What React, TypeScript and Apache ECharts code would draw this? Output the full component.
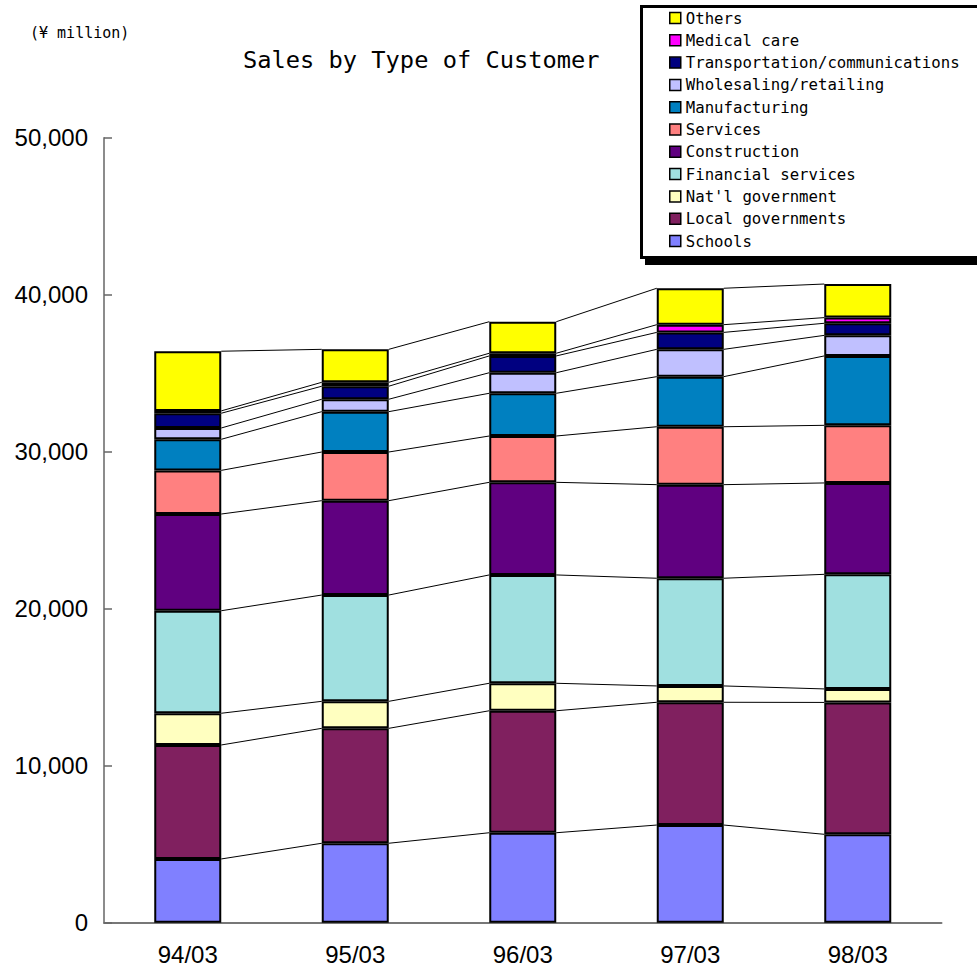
import React, { useEffect, useRef } from "react";
import * as echarts from "echarts";

const categories = ["94/03", "95/03", "96/03", "97/03", "98/03"];

const seriesNames = [
  "Schools",
  "Local governments",
  "Nat'l government",
  "Financial services",
  "Construction",
  "Services",
  "Manufacturing",
  "Wholesaling/retailing",
  "Transportation/communications",
  "Medical care",
  "Others",
];

const schools = [4060, 5060, 5730, 6220, 5630];
const localGovernments = [7260, 7320, 7770, 7820, 8400];
const natlGovernment = [2020, 1720, 1750, 1040, 860];
const financialServices = [6530, 6770, 6900, 6860, 7300];
const construction = [6160, 6010, 5900, 5960, 5820];
const services = [2780, 3100, 2950, 3690, 3670];
const manufacturing = [1980, 2570, 2720, 3190, 4420];
const wholesaling = [720, 790, 1310, 1740, 1310];
const transportation = [940, 830, 1070, 1080, 770];
const medicalCare = [150, 250, 170, 490, 360];
const others = [3800, 2100, 2010, 2320, 2140];

const seriesValues = [
  schools,
  localGovernments,
  natlGovernment,
  financialServices,
  construction,
  services,
  manufacturing,
  wholesaling,
  transportation,
  medicalCare,
  others,
];

const colors = [
  "#8080FF",
  "#80205F",
  "#FFFFC0",
  "#A0E0E0",
  "#600080",
  "#FF8080",
  "#0080C0",
  "#C0C0FF",
  "#000080",
  "#FF00FF",
  "#FFFF00",
];

const yTicks = [0, 10000, 20000, 30000, 40000, 50000];

export default function App() {
  const ref = useRef<HTMLDivElement>(null);

  useEffect(() => {
    if (!ref.current) return;
    const chart = echarts.init(ref.current, null, { renderer: "svg" });

    // cumulative tops for the connector lines
    const tops: number[][] = [];
    seriesValues.forEach((vals, k) => {
      tops.push(vals.map((v, i) => (k > 0 ? tops[k - 1][i] : 0) + v));
    });
    const connectorData: number[][] = [];
    tops.forEach((row) => {
      for (let i = 0; i < row.length - 1; i++) {
        connectorData.push([i, row[i], row[i + 1]]);
      }
    });

    const barSeries = seriesNames.map((name, k) => ({
      name,
      type: "bar",
      stack: "total",
      barWidth: "40%",
      data: seriesValues[k],
      itemStyle: { color: colors[k], borderColor: "#000", borderWidth: 2 },
      emphasis: { disabled: true },
    }));

    const option: any = {
      animation: false,
      backgroundColor: "#fff",
      title: [
        {
          text: "Sales by Type of Customer",
          left: 243,
          top: 48,
          padding: 0,
          textStyle: {
            fontFamily: "DejaVu Sans Mono",
            fontSize: 23.7,
            fontWeight: "normal",
            color: "#000",
          },
        },
        {
          text: "(¥ million)",
          left: 30,
          top: 25,
          padding: 0,
          textStyle: {
            fontFamily: "DejaVu Sans Mono",
            fontSize: 15,
            fontWeight: "normal",
            color: "#000",
          },
        },
      ],
      graphic: [
        {
          type: "rect",
          z: 0,
          shape: { x: 645, y: 10, width: 400, height: 255 },
          style: { fill: "#000" },
        },
        {
          type: "rect",
          z: 1,
          shape: { x: 641.5, y: 6.5, width: 400, height: 251 },
          style: { fill: "#fff", stroke: "#000", lineWidth: 3 },
        },
      ],
      legend: {
        orient: "vertical",
        left: 669,
        top: 10,
        padding: 0,
        z: 10,
        icon: "rect",
        itemWidth: 11,
        itemHeight: 11,
        itemGap: 6.3,
        data: seriesNames.slice().reverse(),
        itemStyle: { borderColor: "#000", borderWidth: 1.5 },
        textStyle: {
          fontFamily: "DejaVu Sans Mono",
          fontSize: 15.7,
          lineHeight: 16,
          color: "#000",
        },
        selectedMode: false,
      },
      grid: {
        left: 104,
        right: 35.5,
        top: 137.7,
        bottom: 47.3,
        containLabel: false,
      },
      xAxis: {
        type: "category",
        data: categories,
        axisLine: { lineStyle: { color: "#777", width: 2 } },
        axisTick: { inside: true, length: 8, lineStyle: { color: "#777", width: 1.5 } },
        axisLabel: {
          margin: 20,
          fontFamily: "Liberation Sans",
          fontSize: 24,
          color: "#000",
        },
      },
      yAxis: {
        type: "value",
        min: 0,
        max: 50000,
        interval: 10000,
        splitLine: { show: false },
        axisLine: { show: true, lineStyle: { color: "#666", width: 1.5 } },
        axisTick: { show: true, inside: true, length: 8, lineStyle: { color: "#666", width: 1.5 } },
        axisLabel: {
          margin: 16,
          fontFamily: "Liberation Sans",
          fontSize: 24,
          color: "#000",
          formatter: (v: number) => {
            const idx = yTicks.indexOf(v);
            const n = idx >= 0 ? yTicks[idx] : v;
            return n.toLocaleString("en-US");
          },
        },
      },
      series: [
        ...barSeries,
        {
          type: "custom",
          name: "connectors",
          z: 5,
          silent: true,
          encode: { x: 0, y: [1, 2] },
          data: connectorData,
          renderItem: (params: any, api: any) => {
            const i = api.value(0);
            const p1 = api.coord([i, api.value(1)]);
            const p2 = api.coord([i + 1, api.value(2)]);
            const half = api.size([1, 0])[0] * 0.2;
            return {
              type: "line",
              shape: { x1: p1[0] + half, y1: p1[1], x2: p2[0] - half, y2: p2[1] },
              style: { stroke: "#000", lineWidth: 1 },
            };
          },
        },
      ],
    };

    chart.setOption(option);
    return () => chart.dispose();
  }, []);

  return (
    <div
      ref={ref}
      style={{ position: "absolute", left: 0, top: 0, width: 977, height: 970 }}
    />
  );
}
